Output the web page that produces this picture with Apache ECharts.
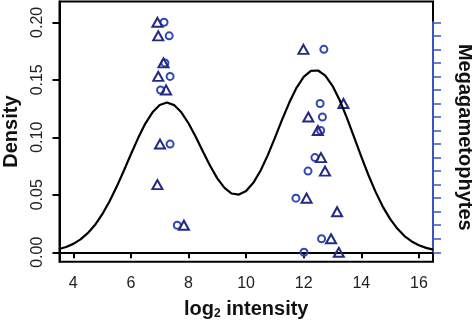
<!DOCTYPE html>
<html><head><meta charset="utf-8">
<script src="https://cdn.jsdelivr.net/npm/echarts@6/dist/echarts.min.js"></script>
<style>html,body{margin:0;padding:0;background:#fff}#c{width:472px;height:323px}</style>
</head><body><div id="c"></div>
<script>
// Density curve (log2 intensity vs density)
const curveX = [3.5,3.75,4.0,4.25,4.5,4.75,5.0,5.25,5.5,5.75,6.0,6.25,6.5,6.75,7.0,7.25,7.5,7.75,8.0,8.25,8.5,8.75,9.0,9.25,9.5,9.75,10.0,10.25,10.5,10.75,11.0,11.25,11.5,11.75,12.0,12.25,12.5,12.75,13.0,13.25,13.5,13.75,14.0,14.25,14.5,14.75,15.0,15.25,15.5,15.75,16.0,16.25,16.5];
const curveY = [0.0028,0.0046,0.0073,0.0112,0.0166,0.0237,0.0329,0.0439,0.0567,0.0707,0.0853,0.0993,0.1119,0.1217,0.1281,0.1302,0.1280,0.1217,0.1122,0.1004,0.0876,0.0752,0.0643,0.0560,0.0511,0.0502,0.0533,0.0604,0.0709,0.0843,0.0995,0.1153,0.1302,0.1430,0.1525,0.1577,0.1581,0.1537,0.1448,0.1322,0.1169,0.1002,0.0832,0.0670,0.0523,0.0395,0.0290,0.0206,0.0141,0.0094,0.0061,0.0038,0.0023];
// Megagametophytes (rows 0..17): triangles
const triRow = [17,16,14,13,12,8,5,2,15,11,10,9,7,6,4,3,1,0];
const triX   = [6.92,6.95,7.13,6.95,7.22,7.01,6.92,7.84,11.99,13.38,12.16,12.49,12.60,12.74,12.10,13.16,12.95,13.22];
// circles
const cirRow = [17,16,14,13,12,8,2,15,11,10,9,7,6,4,1,0];
const cirX   = [7.15,7.33,7.18,7.36,7.03,7.36,7.61,12.70,12.57,12.65,12.59,12.39,12.15,11.73,12.62,12.01];
// ticks
const xTicks = [4,6,8,10,12,14,16];
const yTicks = [0,0.05,0.10,0.15,0.20];
const rowTicks = [0,1,2,3,4,5,6,7,8,9,10,11,12,13,14,15,16,17];

const FONT = '"Liberation Sans", Arial, Helvetica, sans-serif';
const chart = echarts.init(document.getElementById('c'), null, {renderer:'canvas'});
const xMin = 3.52, xMax = 16.49;
chart.setOption({
  animation:false,
  grid:[
    {left:59.5,right:39,top:1.5,bottom:61.3,show:true,borderColor:'#000',borderWidth:2,backgroundColor:'transparent',outerBoundsMode:'none',containLabel:false},
    {left:59.5,right:39,top:22.3,bottom:70.7,show:false,outerBoundsMode:'none',containLabel:false}
  ],
  xAxis:[
    {gridIndex:0,type:'value',min:xMin,max:xMax,
     axisLine:{show:true,lineStyle:{color:'#000',width:2}},
     axisTick:{show:true,customValues:xTicks,length:6,lineStyle:{color:'#000',width:2}},
     axisLabel:{customValues:xTicks,color:'#222',fontSize:16,fontFamily:FONT,margin:14},
     splitLine:{show:false},
     name:'{a|log}{s|2}{a| intensity}',nameLocation:'middle',nameGap:38,
     nameTextStyle:{rich:{a:{fontSize:20,fontWeight:'bold',fontFamily:FONT,color:'#111'},
                           s:{fontSize:12,fontWeight:'bold',fontFamily:FONT,color:'#111',verticalAlign:'bottom',padding:[8,0,0,0]}}}},
    {gridIndex:1,type:'value',min:xMin,max:xMax,show:false}
  ],
  yAxis:[
    {gridIndex:0,type:'value',min:-0.0082,max:0.2181,
     axisLine:{show:true,lineStyle:{color:'#000',width:2}},
     axisTick:{show:true,customValues:yTicks,length:7,lineStyle:{color:'#000',width:2}},
     axisLabel:{customValues:yTicks,rotate:90,color:'#222',fontSize:16,fontFamily:FONT,margin:14,
       formatter:v=>v.toFixed(2)},
     splitLine:{show:false},
     name:'Density',nameLocation:'middle',nameGap:37,nameRotate:90,
     nameTextStyle:{fontSize:20,fontWeight:'bold',fontFamily:FONT,color:'#111'}},
    {gridIndex:1,type:'value',position:'right',min:0,max:17,
     axisLine:{show:true,lineStyle:{color:'#3a55c0',width:2}},
     axisTick:{show:true,customValues:rowTicks,length:8,lineStyle:{color:'#3a55c0',width:1.5}},
     axisLabel:{show:false},splitLine:{show:false},
     name:'Megagametophytes',nameLocation:'middle',nameGap:22,nameRotate:-90,
     nameTextStyle:{fontSize:20,fontWeight:'bold',fontFamily:FONT,color:'#111'}}
  ],
  series:[
    {type:'line',xAxisIndex:0,yAxisIndex:0,smooth:false,showSymbol:false,
     data:curveX.map((x,i)=>[x,curveY[i]]),lineStyle:{color:'#000',width:2.2,join:'round'}},
    {type:'scatter',xAxisIndex:1,yAxisIndex:1,clip:false,symbol:'circle',symbolSize:7,
     data:cirX.map((x,i)=>[x,cirRow[i]]),
     itemStyle:{color:'rgba(0,0,0,0)',borderColor:'#3048b5',borderWidth:2,opacity:1}},
    {type:'scatter',xAxisIndex:1,yAxisIndex:1,clip:false,symbol:'triangle',symbolSize:[10,9],
     data:triX.map((x,i)=>[x,triRow[i]]),
     itemStyle:{color:'rgba(0,0,0,0)',borderColor:'#222a86',borderWidth:2,opacity:1}}
  ]
});
</script></body></html>
